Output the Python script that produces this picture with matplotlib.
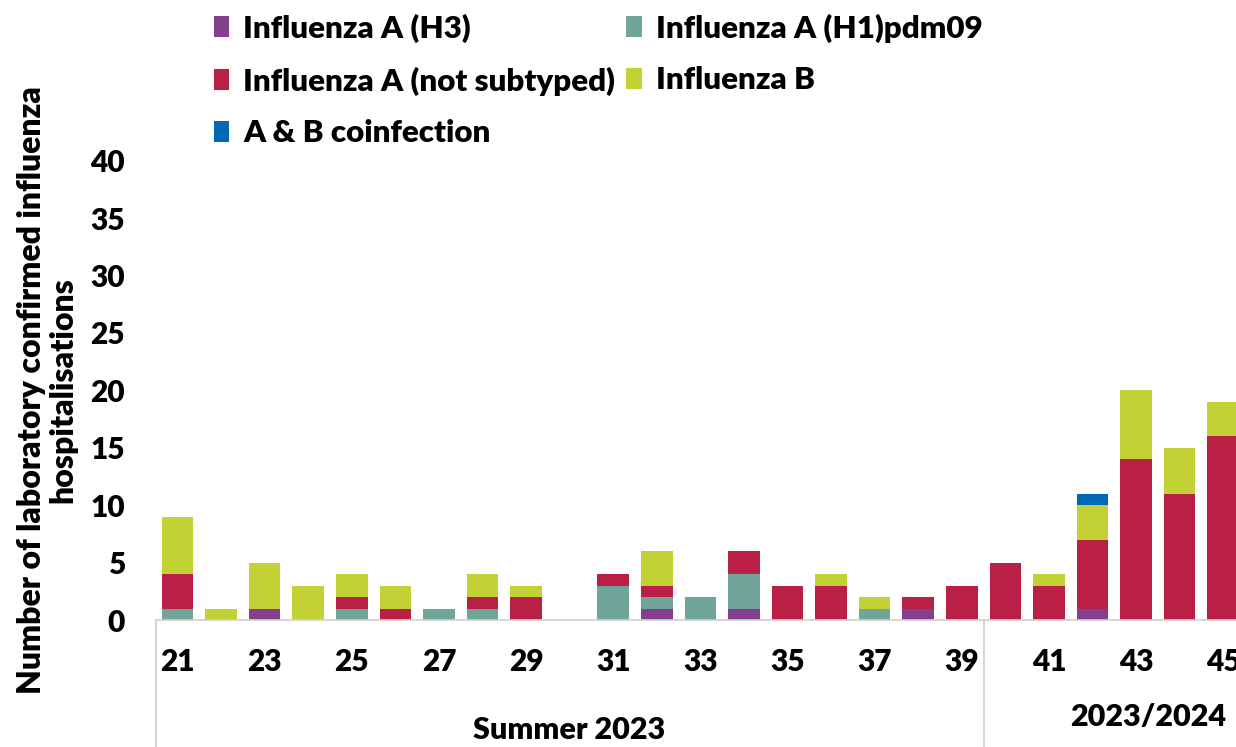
import matplotlib
matplotlib.use("Agg")
import matplotlib.pyplot as plt
import matplotlib.transforms as mtransforms
from matplotlib.patches import Patch
import numpy as np

weeks = list(range(21, 46))
h3 =      [0,0,1,0,0,0,0,0,0,0, 0,1,0,1,0,0,0,1,0,0, 0,1,0,0,0]
h1pdm09 = [1,0,0,0,1,0,1,1,0,0, 3,1,2,3,0,0,1,0,0,0, 0,0,0,0,0]
not_sub = [3,0,0,0,1,1,0,1,2,0, 1,1,0,2,3,3,0,1,3,5, 3,6,14,11,16]
flu_b =   [5,1,4,3,2,2,0,2,1,0, 0,3,0,0,0,1,1,0,0,0, 1,3,6,4,3]
coinf =   [0,0,0,0,0,0,0,0,0,0, 0,0,0,0,0,0,0,0,0,0, 0,1,0,0,0]

series_names = ["Influenza A (H3)", "Influenza A (H1)pdm09",
                "Influenza A (not subtyped)", "Influenza B", "A & B coinfection"]
series_vals = [h3, h1pdm09, not_sub, flu_b, coinf]
colors = ["#84408F", "#70A59A", "#BA2045", "#C2D234", "#0068B4"]

groups = ["Summer 2023", "2023/2024"]
yticks = list(range(0, 41, 5))

FONT = "Lato"
WT = "heavy"
plt.rcParams["font.family"] = [FONT, "DejaVu Sans"]
plt.rcParams["font.weight"] = WT

W, H = 1236, 747
fig = plt.figure(figsize=(W/100, H/100), dpi=100)
ax_left, ax_right = 155.7, 1245.0
ax_bot, ax_top = 620.0, 160.6
ax = fig.add_axes([ax_left/W, 1-ax_bot/H, (ax_right-ax_left)/W, (ax_bot-ax_top)/H])

x = np.arange(len(weeks))
bottom = np.zeros(len(weeks))
handles = []
for name, vals, c in zip(series_names, series_vals, colors):
    v = np.array(vals, dtype=float)
    ax.bar(x, v, width=0.727, bottom=bottom, color=c, linewidth=0)
    bottom += v
    handles.append(Patch(facecolor=c, edgecolor="none", label=name))

ax.set_xlim(-0.5, len(weeks)-0.5)
ax.set_ylim(0, 40)
ax.set_yticks(yticks)
ax.set_yticklabels([str(t) for t in yticks], fontsize=21.5, fontweight=WT)
ax.set_xticks(x)
ax.set_xticklabels([str(w) if w % 2 == 1 else "" for w in weeks], fontsize=21.5, fontweight=WT)
ax.tick_params(axis="y", length=0, pad=22)
ax.tick_params(axis="x", length=0, pad=20)
for s in ["top", "right", "left"]:
    ax.spines[s].set_visible(False)
ax.spines["bottom"].set_color("#D0D0D0")
ax.spines["bottom"].set_linewidth(1.2)

# category group separators
trans = mtransforms.blended_transform_factory(ax.transData, ax.transAxes)
depth = -(H - ax_bot) / (ax_bot - ax_top)
sep_idx = weeks.index(40) - 0.5
for xs in [-0.5, sep_idx]:
    ax.plot([xs, xs], [0, depth], transform=trans, color="#D0D0D0", lw=1.2, clip_on=False)

fig.text(((ax_left + 981.7) / 2) / W, 1 - 730/H, groups[0], ha="center", va="center",
         fontsize=22, fontweight=WT)
fig.text(1148/W, 1 - 717/H, groups[1], ha="center", va="center",
         fontsize=22, fontweight=WT)

fig.text(47/W, 1 - 390/H, "Number of laboratory confirmed influenza\nhospitalisations",
         rotation=90, ha="center", va="center", fontsize=23, fontweight=WT,
         linespacing=1.12, multialignment="center")

order = [0, 2, 4, 1, 3]
leg = fig.legend([handles[i] for i in order], [series_names[i] for i in order],
                 ncol=2, loc="upper left", bbox_to_anchor=(201/W, 1 - 1/H),
                 frameon=False, handlelength=0.5, handleheight=0.65, borderaxespad=0,
                 handletextpad=0.45, columnspacing=0.35, labelspacing=0.76,
                 prop={"family": [FONT], "weight": WT, "size": 22.5})

fig.savefig("out.png", dpi=100)
